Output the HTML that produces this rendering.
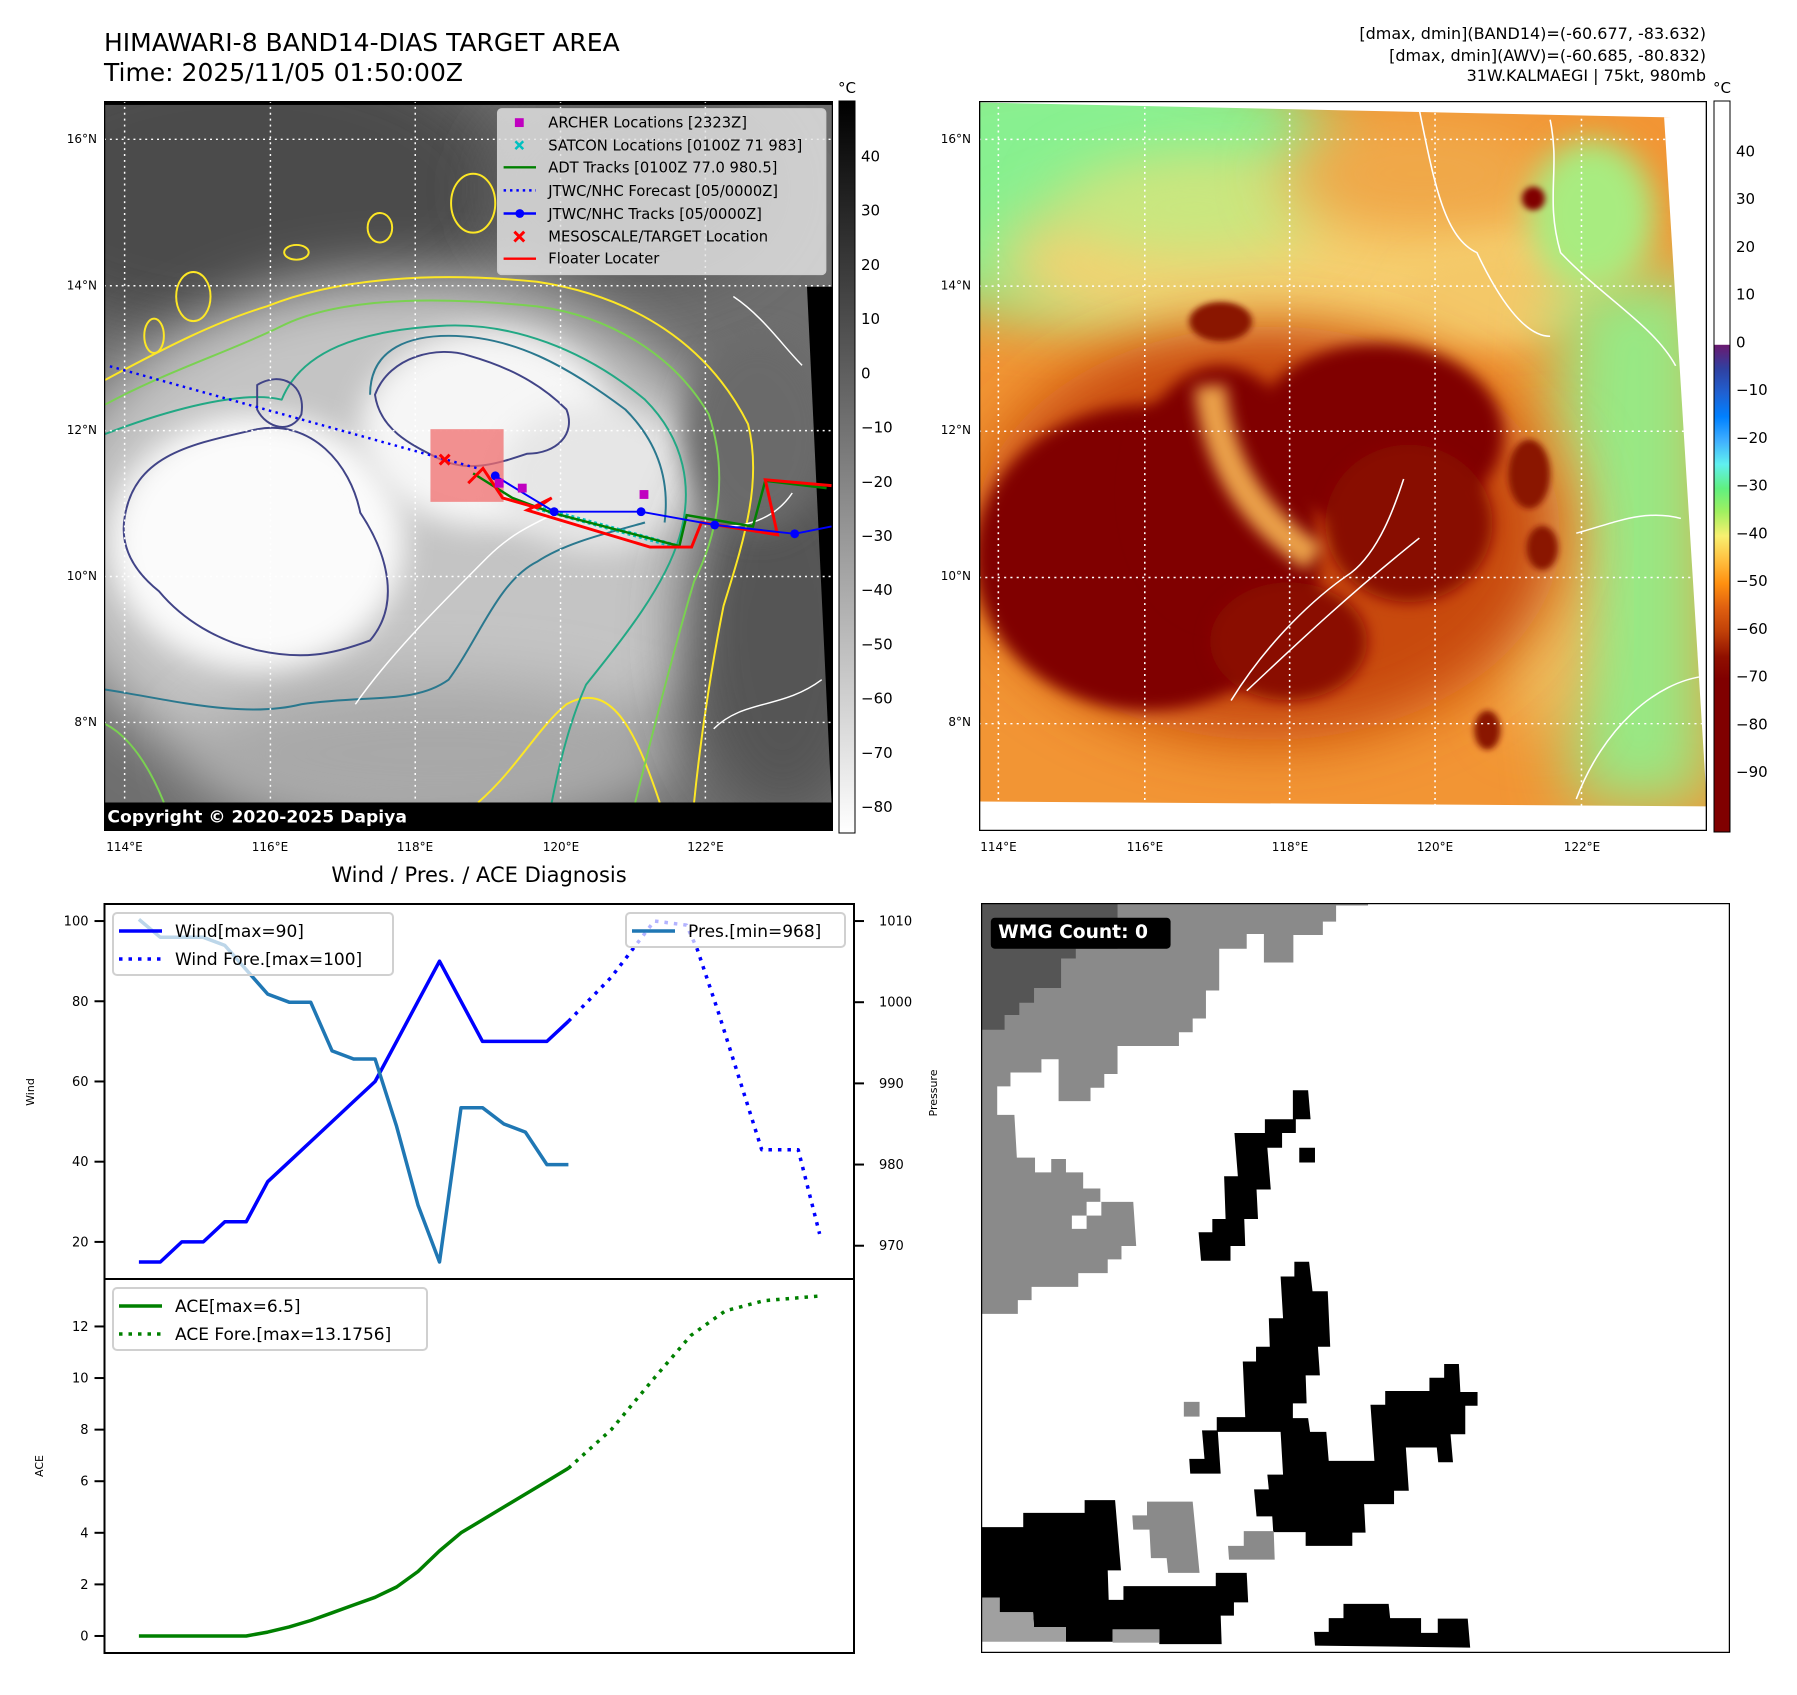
<!DOCTYPE html>
<html><head><meta charset="utf-8"><style>
html,body{margin:0;padding:0;background:#fff;}
svg text{font-family:"DejaVu Sans","Liberation Sans",sans-serif;}
</style></head><body>
<svg id="root" width="1797" height="1690" viewBox="0 0 1797 1690" xmlns="http://www.w3.org/2000/svg">
<defs>
<filter id="b60" x="-50%" y="-50%" width="200%" height="200%"><feGaussianBlur stdDeviation="60"/></filter>
<filter id="b30" x="-50%" y="-50%" width="200%" height="200%"><feGaussianBlur stdDeviation="30"/></filter>
<filter id="b15" x="-50%" y="-50%" width="200%" height="200%"><feGaussianBlur stdDeviation="15"/></filter>
<filter id="b6" x="-50%" y="-50%" width="200%" height="200%"><feGaussianBlur stdDeviation="6"/></filter>
<linearGradient id="cbGray" x1="0" y1="0" x2="0" y2="1"><stop offset="0" stop-color="#000"/><stop offset="1" stop-color="#fff"/></linearGradient>
<linearGradient id="cbJet" x1="0" y1="0" x2="0" y2="1">
<stop offset="0" stop-color="#fff"/><stop offset="0.333" stop-color="#fff"/>
<stop offset="0.334" stop-color="#6a1a70"/><stop offset="0.366" stop-color="#3040a0"/>
<stop offset="0.399" stop-color="#2060d0"/><stop offset="0.432" stop-color="#0080ff"/>
<stop offset="0.465" stop-color="#40b0ff"/><stop offset="0.497" stop-color="#60f0f0"/>
<stop offset="0.530" stop-color="#60f080"/><stop offset="0.562" stop-color="#a0f060"/>
<stop offset="0.595" stop-color="#f8f070"/><stop offset="0.628" stop-color="#ffc040"/>
<stop offset="0.660" stop-color="#ff9010"/><stop offset="0.693" stop-color="#e06010"/>
<stop offset="0.726" stop-color="#c04008"/><stop offset="0.76" stop-color="#901000"/>
<stop offset="0.791" stop-color="#800000"/><stop offset="1" stop-color="#800000"/>
</linearGradient>
</defs>

<!-- Titles -->
<text x="104" y="51" font-size="25">HIMAWARI-8 BAND14-DIAS TARGET AREA</text>
<text x="104" y="81" font-size="25">Time: 2025/11/05 01:50:00Z</text>
<g font-size="16" text-anchor="end">
<text x="1706" y="39">[dmax, dmin](BAND14)=(-60.677, -83.632)</text>
<text x="1706" y="61">[dmax, dmin](AWV)=(-60.685, -80.832)</text>
<text x="1706" y="81">31W.KALMAEGI | 75kt, 980mb</text>
</g>

<!-- LEFT MAP -->
<svg x="104" y="101" width="729" height="730" viewBox="18 22 1485 1486" preserveAspectRatio="none">
<rect x="18" y="22" width="1485" height="1486" fill="#6e6e6e"/>
<ellipse cx="300" cy="200" rx="550" ry="300" fill="#4c4c4c" filter="url(#b60)"/>
<ellipse cx="1100" cy="200" rx="300" ry="200" fill="#5a5a5a" filter="url(#b60)"/>
<ellipse cx="620" cy="920" rx="720" ry="540" fill="#c4c4c4" filter="url(#b60)"/>
<ellipse cx="700" cy="1350" rx="500" ry="150" fill="#a8a8a8" filter="url(#b60)"/>
<ellipse cx="330" cy="920" rx="300" ry="260" fill="#fbfbfb" filter="url(#b30)"/>
<ellipse cx="800" cy="690" rx="260" ry="200" fill="#f6f6f6" filter="url(#b30)"/>
<ellipse cx="1020" cy="790" rx="200" ry="150" fill="#e6e6e6" filter="url(#b30)"/>
<ellipse cx="1400" cy="1100" rx="200" ry="380" fill="#555" filter="url(#b60)"/>
<ellipse cx="1350" cy="700" rx="150" ry="200" fill="#6a6a6a" filter="url(#b30)"/>
<polygon points="1450,400 1503,400 1503,1508 1500,1450" fill="#000"/>
<rect x="18" y="22" width="1485" height="8" fill="#000"/>
<g fill="none" stroke-width="4" stroke-linejoin="round">
<path stroke="#fde725" d="M20,590 C150,520 250,470 350,440 C500,380 700,370 900,390 C1100,420 1250,520 1330,680 C1360,800 1320,920 1280,1050 C1250,1200 1230,1350 1220,1450"/>
<path stroke="#fde725" d="M780,1450 C860,1380 900,1300 960,1250 C1050,1200 1100,1300 1150,1450"/>
<ellipse stroke="#fde725" cx="200" cy="420" rx="35" ry="50"/>
<ellipse stroke="#fde725" cx="120" cy="500" rx="20" ry="35"/>
<ellipse stroke="#fde725" cx="580" cy="280" rx="25" ry="30"/>
<ellipse stroke="#fde725" cx="770" cy="230" rx="45" ry="60"/>
<ellipse stroke="#fde725" cx="410" cy="330" rx="25" ry="15"/>
<path stroke="#7ad151" d="M20,640 C150,570 280,530 380,480 C500,420 700,420 900,440 C1050,460 1180,540 1250,660 C1290,780 1270,900 1220,1000 C1190,1100 1150,1250 1100,1450"/>
<path stroke="#7ad151" d="M20,1290 C80,1320 120,1400 140,1450"/>
<path stroke="#22a884" d="M20,700 C150,650 300,610 380,630 C420,530 540,490 700,480 C850,470 1000,530 1120,630 C1200,710 1220,810 1190,910 C1160,1010 1080,1110 1000,1210 C960,1300 940,1400 930,1450"/>
<path stroke="#2a788e" d="M20,1220 C150,1240 300,1280 420,1250 C560,1230 650,1250 720,1200 C780,1120 820,1000 900,960 C960,920 1050,900 1120,880"/>
<path stroke="#2a788e" d="M560,620 C560,520 650,500 720,500 C850,500 960,560 1080,650 C1150,720 1170,800 1160,880"/>
<path stroke="#414487" d="M60,870 C80,740 200,720 330,690 C440,670 520,760 540,860 C600,950 620,1050 560,1120 C480,1150 420,1160 330,1140 C250,1120 180,1080 130,1020 C80,980 50,930 60,870Z"/>
<path stroke="#414487" d="M570,620 C600,540 700,520 760,540 C830,560 900,590 960,650 C980,700 940,740 880,740 C820,760 760,780 700,750 C640,720 580,690 570,620Z"/>
<path stroke="#414487" d="M330,600 C380,570 430,600 420,660 C400,700 350,690 330,650Z"/>
<path stroke="#fff" stroke-width="3" d="M530,1250 C600,1150 700,1050 800,950 C850,900 900,880 940,860 M1240,880 C1300,900 1380,880 1420,820 M1260,1300 C1320,1240 1400,1260 1480,1200 M1300,420 C1360,460 1400,520 1440,560"/>
</g>
<g stroke="#fff" stroke-width="3" stroke-dasharray="4,8" fill="none">
<path d="M60,22V1508M357,22V1508M652,22V1508M948,22V1508M1243,22V1508"/>
<path d="M18,100H1503M18,398H1503M18,693H1503M18,990H1503M18,1287H1503"/>
</g>
<rect x="683" y="690" width="149" height="148" fill="rgba(240,110,110,0.75)"/>
<path d="M30,562 L780,770" stroke="#0000ff" stroke-width="5" stroke-dasharray="5,9" fill="none"/>
<g stroke="#00c0c0" stroke-width="5" fill="none"><path d="M900,850 L1190,930" stroke-dasharray="6,6" stroke-width="10"/></g>
<path d="M770,780 L850,830 L930,860 L1190,928 L1205,865 L1340,888 L1365,795 L1490,810" stroke="#008000" stroke-width="5" fill="none"/>
<path d="M760,800 L790,770 L830,830 L900,850 L930,830 L880,855 L1130,930 L1215,930 L1235,880 L1390,905 L1365,793 L1500,805" stroke="#ff0000" stroke-width="6" fill="none"/>
<g fill="#0000ff">
<path d="M815,785 L880,825 L935,858 L1112,858 L1262,885 L1425,903 L1500,888" stroke="#0000ff" stroke-width="4" fill="none"/>
<circle cx="815" cy="785" r="9"/><circle cx="935" cy="858" r="9"/><circle cx="1112" cy="858" r="9"/><circle cx="1262" cy="885" r="9"/><circle cx="1425" cy="903" r="9"/>
</g>
<g fill="#c000c0"><rect x="814" y="791" width="18" height="18"/><rect x="861" y="801" width="18" height="18"/><rect x="1109" y="814" width="18" height="18"/></g>
<path d="M702,742 L722,762 M722,742 L702,762" stroke="#ff0000" stroke-width="6"/>
<g>
<rect x="820" y="38" width="668" height="337" rx="8" fill="rgba(228,228,228,0.82)" stroke="#ccc" stroke-width="3"/>
<rect x="855" y="57" width="18" height="18" fill="#c000c0"/>
<path d="M856,104 L872,120 M872,104 L856,120" stroke="#00c0c0" stroke-width="5"/>
<path d="M832,157 H898" stroke="#008000" stroke-width="5"/>
<path d="M832,204 H898" stroke="#0000ff" stroke-width="5" stroke-dasharray="5,8"/>
<path d="M832,251 H898" stroke="#0000ff" stroke-width="5"/><circle cx="865" cy="251" r="9" fill="#0000ff"/>
<path d="M854,288 L874,308 M874,288 L854,308" stroke="#ff0000" stroke-width="6"/>
<path d="M832,343 H898" stroke="#ff0000" stroke-width="5"/>
<g font-size="30" fill="#000">
<text x="923" y="76">ARCHER Locations [2323Z]</text>
<text x="923" y="123">SATCON Locations [0100Z 71 983]</text>
<text x="923" y="168">ADT Tracks [0100Z 77.0 980.5]</text>
<text x="923" y="215">JTWC/NHC Forecast [05/0000Z]</text>
<text x="923" y="262">JTWC/NHC Tracks [05/0000Z]</text>
<text x="923" y="308">MESOSCALE/TARGET Location</text>
<text x="923" y="353">Floater Locater</text>
</g></g>
<rect x="18" y="1450" width="1485" height="58" fill="#000"/>
<text x="25" y="1491" font-size="35" font-weight="bold" fill="#fff">Copyright © 2020-2025 Dapiya</text>
<rect x="18" y="22" width="1485" height="1486" fill="none" stroke="#000" stroke-width="5"/>
</svg>
<rect x="839" y="101" width="16" height="732" fill="url(#cbGray)" stroke="#000" stroke-width="1"/>
<text x="847" y="93" font-size="15" text-anchor="middle">°C</text>
<g id="cbL" font-size="15"></g>

<!-- RIGHT MAP -->
<svg x="979" y="101" width="728" height="730" viewBox="8 22 1392 1483" preserveAspectRatio="none">
<rect x="8" y="22" width="1392" height="1483" fill="#f29534"/>
<ellipse cx="200" cy="180" rx="520" ry="280" fill="#88f090" filter="url(#b60)"/>
<ellipse cx="650" cy="350" rx="600" ry="170" fill="#f6d070" filter="url(#b60)"/>
<ellipse cx="420" cy="240" rx="250" ry="100" fill="#c8e880" filter="url(#b60)"/>
<ellipse cx="850" cy="170" rx="260" ry="120" fill="#f0a848" filter="url(#b60)"/>
<ellipse cx="1000" cy="420" rx="180" ry="90" fill="#f4c868" filter="url(#b30)"/>
<polygon points="1130,380 1400,380 1400,1450 1150,1450 1100,900" fill="#98e884" filter="url(#b60)"/>
<ellipse cx="1180" cy="250" rx="120" ry="150" fill="#a8ec80" filter="url(#b30)"/>
<ellipse cx="1080" cy="1000" rx="90" ry="300" fill="#f4c060" filter="url(#b60)"/>
<ellipse cx="560" cy="900" rx="560" ry="420" fill="#c84a10" filter="url(#b60)"/>
<ellipse cx="330" cy="950" rx="330" ry="310" fill="#800000" filter="url(#b15)"/>
<ellipse cx="470" cy="820" rx="170" ry="260" fill="#800000" filter="url(#b15)"/>
<ellipse cx="770" cy="700" rx="240" ry="185" fill="#800000" filter="url(#b15)"/>
<ellipse cx="830" cy="880" rx="160" ry="160" fill="#880800" filter="url(#b15)"/>
<ellipse cx="600" cy="1120" rx="150" ry="120" fill="#8a0a00" filter="url(#b15)"/>
<path d="M450,600 Q470,830 650,950" stroke="#eaa048" stroke-width="60" fill="none" filter="url(#b15)"/>
<ellipse cx="470" cy="470" rx="60" ry="40" fill="#8a1500" filter="url(#b6)"/>
<ellipse cx="1068" cy="220" rx="22" ry="24" fill="#800000" filter="url(#b6)"/>
<ellipse cx="1060" cy="780" rx="40" ry="70" fill="#8a1500" filter="url(#b6)"/>
<ellipse cx="1085" cy="930" rx="30" ry="45" fill="#8a1500" filter="url(#b6)"/>
<ellipse cx="980" cy="1300" rx="25" ry="40" fill="#8a1500" filter="url(#b6)"/>
<path d="M490,1240 C560,1120 650,1030 720,980 C780,930 810,820 820,790 M520,1220 C620,1120 720,1020 850,910" stroke="#fff" stroke-width="3" fill="none"/>
<path d="M850,40 C880,200 900,300 960,330 C1000,420 1050,500 1100,500 M1100,60 C1120,160 1090,220 1120,330 C1200,420 1300,480 1340,560 M1150,900 C1220,880 1280,850 1350,870 M1150,1440 C1200,1300 1300,1200 1400,1190" stroke="#fff" stroke-width="3" fill="none"/>
<g stroke="#fff" stroke-width="3" stroke-dasharray="4,8" fill="none">
<path d="M45,22V1505M325,22V1505M602,22V1505M880,22V1505M1160,22V1505"/>
<path d="M8,100H1400M8,398H1400M8,693H1400M8,990H1400M8,1287H1400"/>
</g>
<polygon points="8,22 1400,22 1400,58 1318,55 8,25" fill="#fff"/>
<polygon points="1318,55 1400,55 1400,1455" fill="#fff"/>
<polygon points="8,1445 1400,1455 1400,1505 8,1505" fill="#fff"/>
<rect x="8" y="22" width="1392" height="1483" fill="none" stroke="#000" stroke-width="5"/>
</svg>
<rect x="1714" y="101" width="16" height="731" fill="url(#cbJet)" stroke="#000" stroke-width="1"/>
<text x="1722" y="93" font-size="15" text-anchor="middle">°C</text>
<g id="cbR" font-size="15"></g>

<g id="mapTicks" font-size="12"></g>

<!-- Chart -->
<text x="479" y="882" font-size="21" text-anchor="middle">Wind / Pres. / ACE Diagnosis</text>
<g id="chart"></g>

<!-- WMG -->
<svg x="981" y="903" width="749" height="750" viewBox="2 7 1525 1526" preserveAspectRatio="none">
<rect x="2" y="7" width="1525" height="1526" fill="#fff"/>
<path fill="#8a8a8a" d="M2,7 L790,7 L790,12 L725,12 L725,45 L698,45 L698,72 L638,72 L638,128 L578,128 L578,70 L543,70 L543,100 L487,100 L487,185 L460,185 L460,242 L433,242 L433,270 L405,270 L405,298 L280,298 L280,355 L253,355 L253,383 L225,383 L225,410 L160,410 L160,325 L125,325 L125,352 L62,352 L62,380 L35,380 L35,438 L70,438 L75,525 L112,525 L112,555 L145,555 L145,528 L175,528 L175,555 L210,555 L210,588 L245,588 L245,615 L312,615 L318,705 L288,705 L288,732 L260,732 L260,760 L200,760 L200,788 L105,788 L105,815 L77,815 L77,843 L2,843 Z"/>
<rect x="187" y="643" width="30" height="27" fill="#fff"/><rect x="217" y="615" width="30" height="28" fill="#fff"/>
<path fill="#555" d="M2,7 L280,7 L280,100 L195,100 L195,120 L165,120 L165,180 L110,180 L110,210 L80,210 L80,235 L50,235 L50,265 L2,265 Z"/>
<g fill="#000">
<path d="M637,388 L668,388 L673,447 L643,447 L643,475 L615,475 L615,505 L585,505 L592,590 L563,590 L566,650 L538,650 L540,705 L510,705 L510,735 L450,735 L445,677 L473,677 L473,650 L500,650 L497,563 L525,563 L518,475 L580,475 L580,447 L637,447 Z"/>
<rect x="650" y="505" width="32" height="30"/>
<path d="M640,737 L670,737 L677,797 L708,797 L713,910 L688,910 L692,968 L663,968 L665,1025 L637,1025 L637,1055 L668,1055 L672,1083 L705,1083 L710,1142 L803,1142 L795,1028 L825,1028 L825,1000 L915,1000 L915,973 L945,973 L945,945 L975,945 L978,1002 L1013,1002 L1013,1030 L988,1030 L988,1088 L958,1088 L963,1145 L933,1145 L930,1115 L867,1115 L873,1203 L843,1203 L843,1230 L782,1230 L785,1288 L758,1288 L758,1315 L663,1315 L663,1287 L597,1287 L595,1255 L563,1255 L558,1200 L588,1200 L585,1170 L617,1170 L612,1083 L482,1083 L482,1053 L540,1053 L535,940 L562,940 L562,910 L590,910 L588,852 L617,852 L612,767 L640,767 Z"/>
<path d="M452,1080 L484,1080 L490,1168 L428,1168 L426,1138 L457,1138 Z"/>
<path d="M213,1222 L275,1222 L287,1365 L260,1365 L262,1425 L292,1425 L292,1397 L480,1397 L480,1370 L543,1370 L546,1430 L517,1430 L517,1457 L490,1457 L492,1515 L365,1515 L365,1485 L270,1485 L270,1510 L175,1510 L175,1480 L110,1480 L108,1450 L40,1450 L40,1420 L2,1420 L2,1277 L88,1277 L88,1248 L213,1248 Z"/>
<path d="M740,1433 L832,1433 L835,1462 L898,1462 L898,1492 L932,1492 L932,1463 L993,1463 L998,1522 L682,1518 L680,1490 L710,1490 L710,1462 L740,1462 Z"/>
</g>
<rect x="415" y="1022" width="32" height="30" fill="#8a8a8a"/>
<path fill="#8a8a8a" d="M340,1225 L433,1225 L447,1370 L383,1370 L380,1340 L348,1340 L345,1282 L312,1282 L310,1253 L340,1253 Z"/>
<path fill="#8a8a8a" d="M537,1285 L598,1285 L600,1343 L507,1343 L505,1315 L537,1315 Z"/>
<path fill="#a0a0a0" d="M2,1420 L40,1420 L40,1450 L108,1450 L110,1480 L175,1480 L175,1510 L2,1510 Z"/>
<rect x="270" y="1485" width="95" height="27" fill="#a0a0a0"/>
<rect x="22" y="37" width="366" height="63" rx="8" fill="#000"/>
<text x="37" y="78" font-size="38" font-weight="bold" fill="#fff">WMG Count: 0</text>
<rect x="2" y="7" width="1525" height="1526" fill="none" stroke="#000" stroke-width="5"/>
</svg>

<script>
// ---- chart data ----
const windObsIdx = [0,1,2,3,4,5,6,7,8,9,10,11,12,13,14,15,16,17,18,19,20];
const windObs = [15,15,20,20,25,25,35,40,45,50,55,60,70,80,90,80,70,70,70,70,75];
const windForeIdx = [20,22,24,25.5,26,27,28,29,30,30.7,31.7];
const windFore = [75,86,100,99,93,77,60,43,43,43,22];
const presObsIdx = [0,1,2,3,4,5,6,7,8,9,10,11,12,13,14,15,16,17,18,19,20];
const presObs = [1010.2,1008,1008,1008,1007,1004,1001,1000,1000,994,993,993,984.7,975,968,987,987,985,984,980,980];
const aceObsIdx = [0,1,2,3,4,5,6,7,8,9,10,11,12,13,14,15,16,17,18,19,20];
const aceObs = [0,0,0,0,0,0,0.15,0.35,0.6,0.9,1.2,1.5,1.9,2.5,3.3,4.0,4.5,5.0,5.5,6.0,6.5];
const aceForeIdx = [20,22,24,25.7,27.3,29.1,31.7];
const aceFore = [6.5,8.0,10.0,11.65,12.6,13.0,13.18];
const windTicks = [20,40,60,80,100];
const presTicks = [970,980,990,1000,1010];
const aceTicks = [0,2,4,6,8,10,12];
const irCbTicks = [40,30,20,10,0,-10,-20,-30,-40,-50,-60,-70,-80];
const awvCbTicks = [40,30,20,10,0,-10,-20,-30,-40,-50,-60,-70,-80,-90];
const latLabels = ['16°N','14°N','12°N','10°N','8°N'];
const lonLabels = ['114°E','116°E','118°E','120°E','122°E'];

const NS='http://www.w3.org/2000/svg';
function mk(tag, attrs, parent){const e=document.createElementNS(NS,tag);for(const k in attrs)e.setAttribute(k,attrs[k]);parent.appendChild(e);return e;}
function lbl(v){return v<0?'\u2212'+Math.abs(v):String(v);}

const X0=104.5,X1=854,WT=904,WB=1279,AT=1279,AB=1653;
const xDom=[-1.6,33.3];
const xs=i=>X0+(i-xDom[0])/(xDom[1]-xDom[0])*(X1-X0);
const yW=v=>WB-(v-10.75)/(104.25-10.75)*(WB-WT);
const yP=v=>WB-(v-965.9)/(1012.1-965.9)*(WB-WT);
const yA=v=>AB-(v-(-0.66))/(13.84-(-0.66))*(AB-AT);
const chart=document.getElementById('chart');
function line(idx,vals,ys,color,dash,name){
  const d=idx.map((i,k)=>(k?'L':'M')+xs(i).toFixed(1)+','+ys(vals[k]).toFixed(1)).join(' ');
  const p=mk('path',{d:d,fill:'none',stroke:color,'stroke-width':3.5,'stroke-linejoin':'round'},chart);
  if(dash)p.setAttribute('stroke-dasharray','3.5,6');
  
  
}
mk('rect',{x:X0,y:WT,width:X1-X0,height:AB-WT,fill:'#fff'},chart);
line(windObsIdx,windObs,yW,'#0000ff',false,'wind-line');
line(windForeIdx,windFore,yW,'#0000ff',true,'wind-forecast-line');
line(presObsIdx,presObs,yP,'#1f77b4',false,'pressure-line');
line(aceObsIdx,aceObs,yA,'#008000',false,'ace-line');
line(aceForeIdx,aceFore,yA,'#008000',true,'ace-forecast-line');
mk('rect',{x:X0,y:WT,width:X1-X0,height:WB-WT,fill:'none',stroke:'#000','stroke-width':2},chart);
mk('rect',{x:X0,y:AT,width:X1-X0,height:AB-AT,fill:'none',stroke:'#000','stroke-width':2},chart);
windTicks.forEach(v=>{const y=yW(v);mk('line',{x1:X0-10,x2:X0,y1:y,y2:y,stroke:'#000','stroke-width':2},chart);
  const t=mk('text',{x:X0-16,y:y+4.5,'font-size':13,'text-anchor':'end'},chart);t.textContent=v;
  
  });
presTicks.forEach(v=>{const y=yP(v);mk('line',{x1:X1,x2:X1+10,y1:y,y2:y,stroke:'#000','stroke-width':2},chart);
  const t=mk('text',{x:X1+25,y:y+4.5,'font-size':13},chart);t.textContent=v;
  
  });
aceTicks.forEach(v=>{const y=yA(v);mk('line',{x1:X0-10,x2:X0,y1:y,y2:y,stroke:'#000','stroke-width':2},chart);
  const t=mk('text',{x:X0-16,y:y+4.5,'font-size':13,'text-anchor':'end'},chart);t.textContent=v;
  
  });
function ylab(txt,x,y,name){const t=mk('text',{x:x,y:y,'font-size':11,'text-anchor':'middle',transform:'rotate(-90 '+x+' '+y+')'},chart);t.textContent=txt;
  
  }
ylab('Wind',34,1092,'wind-axis-title');ylab('Pressure',937,1093,'pressure-axis-title');ylab('ACE',43,1466,'ace-axis-title');
function legend(x,y,w,h,items,name){
  const g=mk('g',{},chart);
  
  
  mk('rect',{x:x,y:y,width:w,height:h,rx:4,fill:'rgba(255,255,255,0.7)',stroke:'#d0d0d0','stroke-width':2},g);
  items.forEach((it,k)=>{const cy=y+18+k*28;
    const l=mk('line',{x1:x+6,x2:x+49,y1:cy,y2:cy,stroke:it[1],'stroke-width':3.5},g);
    if(it[2])l.setAttribute('stroke-dasharray','3.5,6');
    const t=mk('text',{x:x+62,y:cy+6,'font-size':17},g);t.textContent=it[0];});
}
legend(113,913,280,62,[['Wind[max=90]','#0000ff',false],['Wind Fore.[max=100]','#0000ff',true]],'wind-legend');
legend(626,913,219,34,[['Pres.[min=968]','#1f77b4',false]],'pressure-legend');
legend(113,1288,314,62,[['ACE[max=6.5]','#008000',false],['ACE Fore.[max=13.1756]','#008000',true]],'ace-legend');

// colorbar labels
const cbL=document.getElementById('cbL');
irCbTicks.forEach(v=>{const y=156+(40-v)*(806.5-156)/120;const t=mk('text',{x:861,y:y+5.5},cbL);t.textContent=lbl(v);
  
  });
const cbR=document.getElementById('cbR');
awvCbTicks.forEach(v=>{const y=151+(40-v)*(771.5-151)/130;const t=mk('text',{x:1736,y:y+5.5},cbR);t.textContent=lbl(v);
  
  });
// map tick labels
const mt=document.getElementById('mapTicks');
const latY=[139,285.5,430,576,722];
const lonXL=[124.5,270,415,561,705.5], lonXR=[998.5,1145,1290,1435,1582];
latLabels.forEach((s,k)=>{[97,971].forEach(xr=>{const t=mk('text',{x:xr,y:latY[k]+4,'text-anchor':'end'},mt);t.textContent=s;
  
  });});
lonLabels.forEach((s,k)=>{[lonXL[k],lonXR[k]].forEach(x=>{const t=mk('text',{x:x,y:851,'text-anchor':'middle'},mt);t.textContent=s;
  
  });});
</script>
</body></html>
